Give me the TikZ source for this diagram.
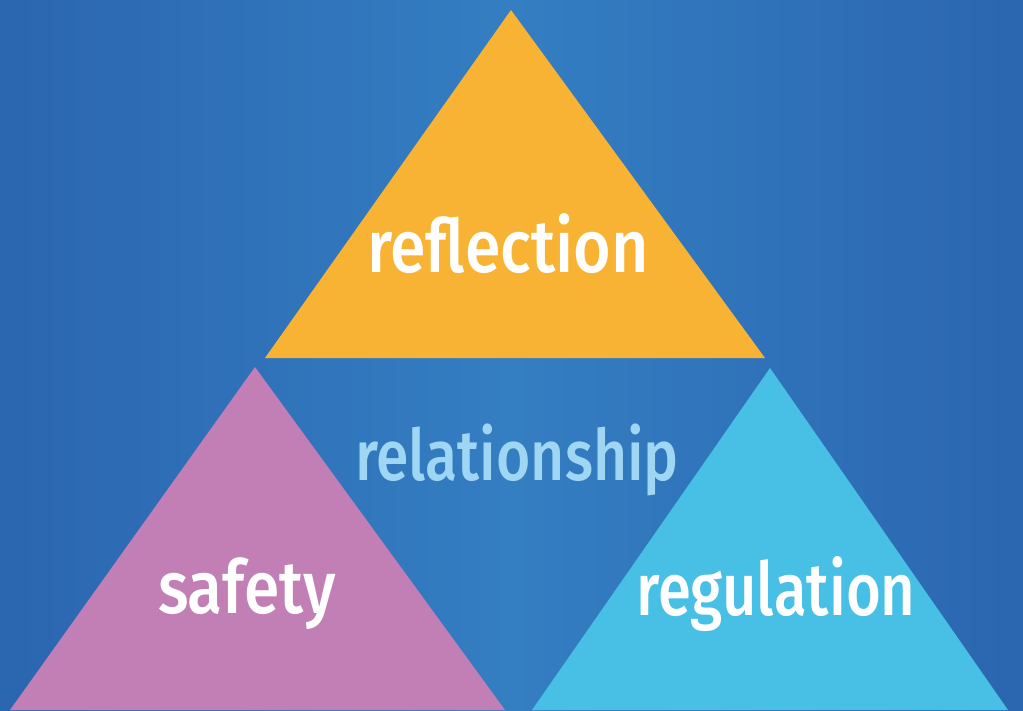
\documentclass[tikz,border=0pt]{standalone}
\usepackage{graphicx}
\usepackage{fontspec}
\setmainfont{Fira Sans}[UprightFont=* Medium, FakeStretch=0.85]
\begin{document}
\begin{tikzpicture}[x=1pt,y=-1pt,
  lbl/.style={anchor=base,inner sep=0pt,font=\fontsize{74}{80}\selectfont},
  tri/.style={draw=none}]
\definecolor{bgdark}{HTML}{2B66B0}
\definecolor{bglight}{HTML}{347EC2}
\definecolor{orangefill}{HTML}{F8B334}
\definecolor{pinkfill}{HTML}{C17FB5}
\definecolor{cyanfill}{HTML}{48BFE5}
\definecolor{reltext}{HTML}{9FD6F4}
\useasboundingbox (0,0) rectangle (1023,710);
\shade[left color=bgdark,right color=bgdark,middle color=bglight] (0,0) rectangle (1023,710);
\fill[orangefill] (511,10) -- (765,358) -- (265,358) -- cycle;
\fill[pinkfill] (255,367) -- (505,710) -- (10,710) -- cycle;
\fill[cyanfill] (770,368) -- (1008,710) -- (532,710) -- cycle;
\node[lbl,text=white] (refl) at (508,272) {\scalebox{1.025}[1]{reflection}};
\node[lbl,text=reltext,font=\fontsize{71}{76}\selectfont] (rel) at (517,480) {\scalebox{0.975}[1]{relationship}};
\node[lbl,text=white] (safe) at (247,613) {\scalebox{1.02}[1]{safety}};
\node[lbl,text=white] (reg) at (776,615) {\scalebox{0.95}[1]{regulation}};
\end{tikzpicture}
\end{document}
